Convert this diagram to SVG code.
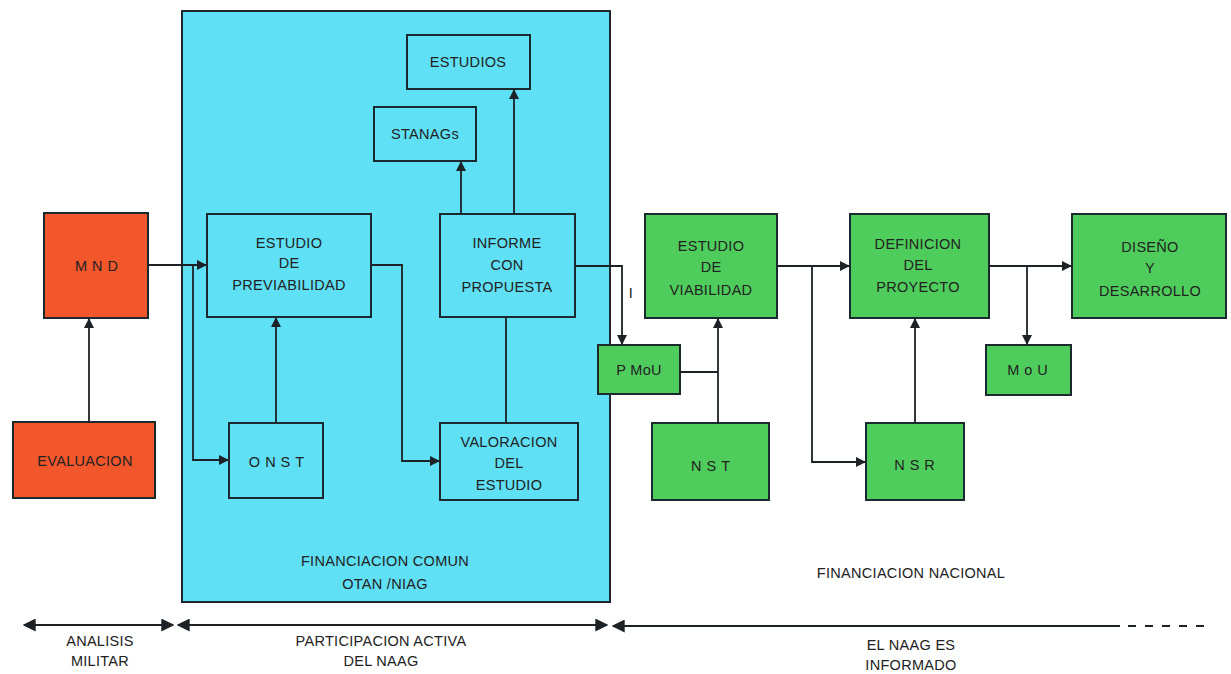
<svg xmlns="http://www.w3.org/2000/svg" width="1231" height="674" viewBox="0 0 1231 674">
<style>
.t{font-family:"Liberation Sans",Arial,sans-serif;font-size:14.5px;fill:#222;text-anchor:middle;letter-spacing:0.3px}
.s{letter-spacing:5px}
.b{stroke:#1c2a30;stroke-width:2}
.r{fill:#f2572c}
.c{fill:#5fe0f4}
.g{fill:#4fcd5c}
.l{fill:none;stroke:#1c2226;stroke-width:1.8}
</style>
<defs>
<marker id="a" viewBox="0 0 10 10" refX="9" refY="5" markerWidth="10" markerHeight="10" markerUnits="userSpaceOnUse" orient="auto"><path d="M0,0 L10,5 L0,10 z" fill="#1c2226"/></marker>
<marker id="a2" viewBox="0 0 10 10" refX="9" refY="5" markerWidth="13" markerHeight="13" markerUnits="userSpaceOnUse" orient="auto-start-reverse"><path d="M0,0 L10,5 L0,10 z" fill="#1c2226"/></marker>
</defs>
<rect width="1231" height="674" fill="#fff"/>
<g id="panel">
<rect x="182" y="11" width="428" height="591" class="c b"/>
<text class="t" x="385" y="566">FINANCIACION COMUN</text>
<text class="t" x="385" y="589">OTAN /NIAG</text>
</g>
<g id="mnd"><rect x="44" y="213" width="104" height="105" class="r b"/><text class="t s" x="99" y="271">MND</text></g>
<g id="evaluacion"><rect x="13" y="422" width="142" height="76" class="r b"/><text class="t" x="85" y="466">EVALUACION</text></g>
<g id="previabilidad"><rect x="207" y="214" width="164" height="103" class="c b"/><text class="t" x="289" y="248">ESTUDIO</text><text class="t" x="289" y="268">DE</text><text class="t" x="289" y="290">PREVIABILIDAD</text></g>
<g id="onst"><rect x="229" y="423" width="94" height="75" class="c b"/><text class="t s" x="279" y="467">ONST</text></g>
<g id="informe"><rect x="440" y="214" width="135" height="103" class="c b"/><text class="t" x="507" y="248">INFORME</text><text class="t" x="507" y="270">CON</text><text class="t" x="507" y="292">PROPUESTA</text></g>
<g id="stanags"><rect x="374" y="107" width="102" height="54" class="c b"/><text class="t" x="425" y="139">STANAGs</text></g>
<g id="estudios"><rect x="407" y="35" width="123" height="54" class="c b"/><text class="t" x="468" y="67">ESTUDIOS</text></g>
<g id="valoracion"><rect x="440" y="423" width="138" height="77" class="c b"/><text class="t" x="509" y="447">VALORACION</text><text class="t" x="509" y="468">DEL</text><text class="t" x="509" y="490">ESTUDIO</text></g>
<g id="pmou"><rect x="598" y="345" width="82" height="49" class="g b"/><text class="t" x="639" y="375">P  MoU</text></g>
<g id="viabilidad"><rect x="645" y="214" width="132" height="104" class="g b"/><text class="t" x="711" y="251">ESTUDIO</text><text class="t" x="711" y="272">DE</text><text class="t" x="711" y="295">VIABILIDAD</text></g>
<g id="nst"><rect x="652" y="423" width="117" height="77" class="g b"/><text class="t s" x="713" y="471">NST</text></g>
<g id="definicion"><rect x="850" y="214" width="139" height="104" class="g b"/><text class="t" x="918" y="249">DEFINICION</text><text class="t" x="918" y="270">DEL</text><text class="t" x="918" y="292">PROYECTO</text></g>
<g id="nsr"><rect x="866" y="423" width="98" height="77" class="g b"/><text class="t s" x="917" y="470">NSR</text></g>
<g id="mou"><rect x="986" y="345" width="85" height="50" class="g b"/><text class="t s" x="1030" y="375">MoU</text></g>
<g id="diseno"><rect x="1072" y="214" width="154" height="104" class="g b"/><text class="t" x="1150" y="252">DISEÑO</text><text class="t" x="1150" y="273">Y</text><text class="t" x="1150" y="296">DESARROLLO</text></g>
<g id="connectors">
<path class="l" d="M148,265 H206" marker-end="url(#a)"/>
<path class="l" d="M193,265 V460 H228" marker-end="url(#a)"/>
<path class="l" d="M89,422 V319" marker-end="url(#a)"/>
<path class="l" d="M276,423 V318" marker-end="url(#a)"/>
<path class="l" d="M371,265 H402 V461 H439" marker-end="url(#a)"/>
<path class="l" d="M461,214 V162" marker-end="url(#a)"/>
<path class="l" d="M514,214 V90" marker-end="url(#a)"/>
<path class="l" d="M506,317 V423"/>
<path class="l" d="M575,266 H622 V344" marker-end="url(#a)"/>
<text class="t" x="631" y="298">I</text>
<path class="l" d="M718,423 V319" marker-end="url(#a)"/>
<path class="l" d="M680,372 H718"/>
<path class="l" d="M777,266 H849" marker-end="url(#a)"/>
<path class="l" d="M812,266 V462 H865" marker-end="url(#a)"/>
<path class="l" d="M915,423 V319" marker-end="url(#a)"/>
<path class="l" d="M989,266 H1071" marker-end="url(#a)"/>
<path class="l" d="M1027,266 V344" marker-end="url(#a)"/>
</g>
<g id="timeline">
<path class="l" d="M24,625 H173" marker-start="url(#a2)" marker-end="url(#a2)"/>
<path class="l" d="M178,625 H607" marker-start="url(#a2)" marker-end="url(#a2)"/>
<path class="l" d="M613,626 H1120" marker-start="url(#a2)"/>
<path class="l" d="M1128,626 H1213" stroke-dasharray="8,9"/>
<text class="t" x="100" y="646">ANALISIS</text>
<text class="t" x="100" y="666">MILITAR</text>
<text class="t" x="381" y="646">PARTICIPACION  ACTIVA</text>
<text class="t" x="381" y="666">DEL  NAAG</text>
<text class="t" x="911" y="650">EL NAAG ES</text>
<text class="t" x="911" y="670">INFORMADO</text>
<text class="t" x="911" y="578">FINANCIACION  NACIONAL</text>
</g>
</svg>
